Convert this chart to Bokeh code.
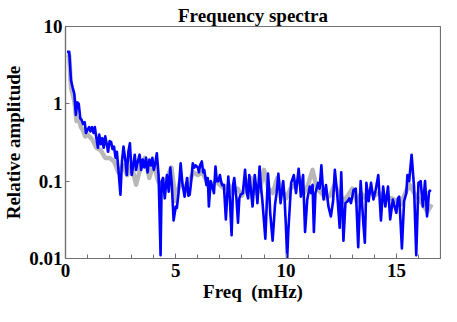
from bokeh.plotting import figure
from bokeh.embed import file_html
from bokeh.resources import INLINE
from bokeh.models import FixedTicker, Range1d

# ---- data ----
blue_freq = [0.07, 0.17, 0.25, 0.33, 0.40, 0.47, 0.53, 0.60, 0.67, 0.73, 0.80, 0.87, 0.93, 1.00,
             1.07, 1.13, 1.20, 1.27, 1.33, 1.40, 1.47, 1.53, 1.60, 1.67, 1.73, 1.80, 1.87, 1.93,
             2.00, 2.07, 2.13, 2.20, 2.27, 2.33, 2.40, 2.49, 2.56, 2.63, 2.70, 2.78, 2.85, 2.92,
             3.00, 3.07, 3.14, 3.20, 3.28, 3.36, 3.43, 3.50, 3.57, 3.65, 3.72, 3.80, 3.87, 3.94,
             4.00, 4.07, 4.14, 4.22, 4.31, 4.36, 4.42, 4.50, 4.60, 4.68, 4.75, 4.82, 4.90, 5.00,
             5.05, 5.12, 5.22, 5.30, 5.40, 5.51, 5.57, 5.63, 5.70, 5.77, 5.84, 5.90, 6.00, 6.05,
             6.10, 6.18, 6.24, 6.29, 6.39, 6.45, 6.50, 6.58, 6.65, 6.73, 6.80, 6.86, 6.93, 7.00,
             7.05, 7.10, 7.18, 7.27, 7.38, 7.45, 7.53, 7.60, 7.65, 7.75, 7.82, 7.88, 7.94, 8.04,
             8.14, 8.22, 8.28, 8.33, 8.40, 8.48, 8.58, 8.65, 8.70, 8.80, 8.85, 8.92, 9.06, 9.18,
             9.23, 9.28, 9.39, 9.50, 9.57, 9.65, 9.75, 9.87, 9.93, 9.99, 10.05, 10.10, 10.23, 10.35,
             10.45, 10.57, 10.62, 10.67, 10.77, 10.86, 10.96, 11.07, 11.14, 11.20, 11.26, 11.33,
             11.45, 11.52, 11.60, 11.70, 11.81, 11.92, 12.03, 12.13, 12.21, 12.32, 12.43, 12.50,
             12.60, 12.69, 12.79, 12.87, 12.94, 13.06, 13.16, 13.27, 13.38, 13.50, 13.57, 13.64,
             13.74, 13.85, 13.96, 14.06, 14.18, 14.30, 14.40, 14.50, 14.62, 14.72, 14.84, 14.92,
             15.00, 15.07, 15.13, 15.25, 15.35, 15.45, 15.50, 15.58, 15.69, 15.80, 15.90, 16.00,
             16.10, 16.20, 16.30, 16.39, 16.48, 16.56]
blue_amp = [4.7, 4.7, 2.0, 1.6, 1.35, 0.72, 1.05, 1.0, 0.65, 0.62, 0.55, 0.58, 0.42, 0.46,
            0.5, 0.44, 0.5, 0.42, 0.5, 0.36, 0.27, 0.4, 0.3, 0.36, 0.27, 0.38, 0.3, 0.24,
            0.33, 0.32, 0.26, 0.28, 0.2, 0.24, 0.14, 0.067, 0.18, 0.28, 0.2, 0.12, 0.24, 0.31,
            0.12, 0.16, 0.22, 0.14, 0.18, 0.22, 0.14, 0.19, 0.15, 0.2, 0.13, 0.19, 0.16, 0.2,
            0.14, 0.17, 0.23, 0.12, 0.011, 0.1, 0.11, 0.06, 0.12, 0.073, 0.15, 0.09, 0.031, 0.047,
            0.045, 0.069, 0.17, 0.093, 0.063, 0.11, 0.065, 0.067, 0.1, 0.17, 0.15, 0.16, 0.15, 0.13,
            0.16, 0.18, 0.13, 0.14, 0.089, 0.11, 0.047, 0.1, 0.085, 0.07, 0.155, 0.1, 0.1, 0.12,
            0.1, 0.089, 0.09, 0.032, 0.115, 0.06, 0.02, 0.09, 0.11, 0.06, 0.029, 0.06, 0.067, 0.07,
            0.14, 0.07, 0.06, 0.12, 0.08, 0.047, 0.12, 0.08, 0.052, 0.155, 0.09, 0.058, 0.018, 0.125,
            0.08, 0.039, 0.017, 0.05, 0.07, 0.125, 0.052, 0.1, 0.06, 0.027, 0.01, 0.022, 0.095, 0.12,
            0.07, 0.145, 0.1, 0.063, 0.12, 0.022, 0.058, 0.085, 0.07, 0.09, 0.022, 0.07,
            0.095, 0.08, 0.16, 0.058, 0.089, 0.047, 0.035, 0.055, 0.14, 0.067, 0.025, 0.13,
            0.017, 0.052, 0.055, 0.06, 0.052, 0.077, 0.08, 0.014, 0.1, 0.029, 0.016, 0.095,
            0.055, 0.095, 0.058, 0.077, 0.12, 0.031, 0.085, 0.047, 0.085, 0.032, 0.058, 0.047,
            0.039, 0.06, 0.063, 0.0135, 0.055, 0.07, 0.12, 0.1, 0.22, 0.085, 0.011, 0.095,
            0.1, 0.047, 0.1, 0.035, 0.073, 0.077]

gray_freq = [0.07, 0.17, 0.25, 0.40, 0.50, 0.60, 0.70, 0.80, 0.90, 1.0, 1.2, 1.4, 1.6, 1.8,
             2.0, 2.2, 2.4, 2.6, 2.8, 3.0, 3.2, 3.4, 3.6, 3.8, 4.0, 4.2, 4.4, 4.6, 4.8, 5.0,
             5.2, 5.4, 5.6, 5.8, 6.0, 6.2, 6.4, 6.6, 6.8, 7.0, 7.2, 7.4, 7.6, 7.8, 8.0, 8.2,
             8.4, 8.6, 8.8, 9.0, 9.2, 9.4, 9.6, 9.8, 10.0, 10.2, 10.4, 10.6, 10.8, 11.0, 11.2,
             11.4, 11.6, 11.8, 12.0, 12.2, 12.4, 12.6, 12.8, 13.0, 13.2, 13.4, 13.6, 13.8, 14.0,
             14.2, 14.4, 14.6, 14.8, 15.0, 15.2, 15.4, 15.6, 15.8, 16.0, 16.2, 16.4, 16.6]
gray_amp = [4.3, 4.2, 1.6, 1.1, 0.6, 0.65, 0.5, 0.45, 0.38, 0.4, 0.35, 0.27, 0.25, 0.2,
            0.2, 0.18, 0.13, 0.16, 0.12, 0.16, 0.09, 0.15, 0.2, 0.11, 0.17, 0.1, 0.08, 0.11, 0.15, 0.055,
            0.1, 0.08, 0.1, 0.13, 0.12, 0.13, 0.1, 0.085, 0.1, 0.09, 0.08, 0.09, 0.07, 0.08, 0.065, 0.09,
            0.11, 0.07, 0.075, 0.14, 0.08, 0.07, 0.11, 0.08, 0.06, 0.08, 0.09, 0.11, 0.07, 0.09, 0.14,
            0.08, 0.07, 0.06, 0.065, 0.09, 0.07, 0.055, 0.065, 0.08, 0.055, 0.07, 0.06, 0.075, 0.065,
            0.07, 0.065, 0.06, 0.06, 0.055, 0.05, 0.07, 0.09, 0.07, 0.06, 0.05, 0.04, 0.05]

x_ticks = [0, 5, 10, 15]
x_minor = [1, 2, 3, 4, 6, 7, 8, 9, 11, 12, 13, 14, 16]
y_ticks = [0.01, 0.1, 1, 10]
y_labels = ["0.01", "0.1", "1", "10"]

FONT = "Liberation Serif"

p = figure(width=441, height=306, y_axis_type="log", output_backend="svg",
           toolbar_location=None, title="Frequency spectra",
           x_range=Range1d(0, 17.0), y_range=Range1d(0.01, 10),
           min_border_left=65, min_border_right=1, min_border_top=26, min_border_bottom=48)

p.title.text_font = FONT
p.title.text_font_size = "19px"
p.title.text_font_style = "bold"
p.title.text_color = "black"
p.title.align = "center"
p.title.standoff = 2
p.title.offset = 0

p.line(gray_freq, gray_amp, line_color="#b8b8b8", line_width=4.5, line_join="round")
p.line(blue_freq, blue_amp, line_color="#0000ff", line_width=2.6, line_join="round")

p.grid.visible = False
p.outline_line_color = "#707070"
p.outline_line_width = 1.2

p.xaxis.ticker = FixedTicker(ticks=x_ticks, minor_ticks=x_minor)
p.yaxis.ticker = FixedTicker(ticks=y_ticks, minor_ticks=[])
p.yaxis.major_label_overrides = {t: l for t, l in zip(y_ticks, y_labels)}

for ax in (p.xaxis, p.yaxis):
    ax.axis_line_color = "#707070"
    ax.axis_line_width = 1.2
    ax.major_tick_line_color = "#707070"
    ax.minor_tick_line_color = "#707070"
    ax.major_tick_out = 0
    ax.minor_tick_out = 0
    ax.major_label_text_font = FONT
    ax.major_label_text_font_size = "19px"
    ax.major_label_text_font_style = "bold"
    ax.major_label_text_color = "black"
    ax.axis_label_text_font = FONT
    ax.axis_label_text_font_size = "19px"
    ax.axis_label_text_font_style = "bold"
    ax.axis_label_text_color = "black"

p.xaxis.major_tick_in = 5
p.xaxis.minor_tick_in = 4
p.yaxis.major_tick_in = 4
p.yaxis.minor_tick_in = 0
p.xaxis.axis_label = "Freq \u00a0(mHz)"
p.yaxis.axis_label = "Relative amplitude"
p.xaxis.major_label_standoff = 5
p.xaxis.axis_label_standoff = 1
p.yaxis.major_label_standoff = 3
p.yaxis.axis_label_standoff = 2

open("out.html", "w").write(file_html(p, INLINE))
